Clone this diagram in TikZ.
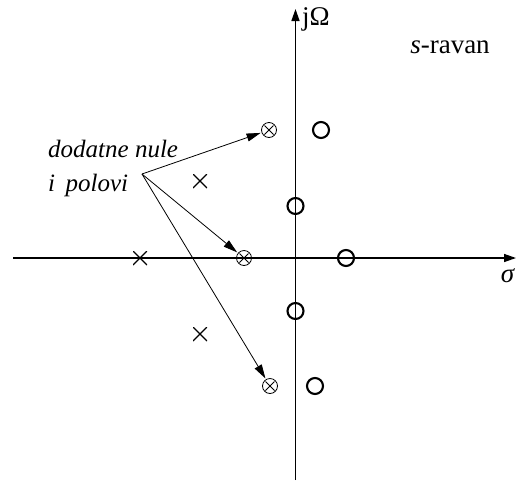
\documentclass[tikz,border=0pt]{standalone}
\usepackage{fontspec}
\setmainfont{Liberation Serif}
\usetikzlibrary{arrows.meta}
\begin{document}
\begin{tikzpicture}[x=1pt,y=-1pt,
  axis/.style={line width=1.4pt,-{Triangle[length=12pt,width=8pt]}},
  pointer/.style={line width=0.8pt,-{Triangle[length=14pt,width=8pt]},shorten >=1pt},
  zero/.style={circle,draw,line width=2.1pt,minimum size=16pt,inner sep=0pt},
  pole/.style={inner sep=0pt,minimum size=14pt,path picture={
     \draw[line width=1.1pt] (path picture bounding box.north west)--(path picture bounding box.south east)
       (path picture bounding box.south west)--(path picture bounding box.north east);}},
  extra/.style={circle,draw,line width=0.8pt,minimum size=15pt,inner sep=0pt,path picture={
     \draw[line width=0.8pt] ([shift={(-4.5pt,-4.5pt)}]path picture bounding box.center)--([shift={(4.5pt,4.5pt)}]path picture bounding box.center)
       ([shift={(-4.5pt,4.5pt)}]path picture bounding box.center)--([shift={(4.5pt,-4.5pt)}]path picture bounding box.center);}},
  lbl/.style={font=\fontsize{27}{30}\selectfont,inner sep=0pt},
  note/.style={font=\fontsize{25}{28}\selectfont\itshape,inner sep=0pt}
]
\useasboundingbox (0,0) rectangle (516,480);
% axes
\coordinate (xl) at (13,258);
\coordinate (xr) at (516,258);
\coordinate (yb) at (295.5,480);
\coordinate (yt) at (295.5,9);
\draw[axis] (xl) -- (xr);
\draw[axis] (yb) -- (yt);
% labels
\node[lbl,anchor=west] (jw) at (302,19) {jΩ};
\node[lbl] (sr) at (450,47) {\textit{s}-ravan};
\node[lbl] (sig) at (508,276) {\textit{σ}};
\node[note,anchor=west] (t1) at (48,149) {dodatne nule};
\node[note,anchor=west] (t2) at (48,185) {i\, polovi};
% zeros
\node[zero] (z1) at (321,130) {};
\node[zero] (z2) at (295.5,206) {};
\node[zero] (z3) at (346,258) {};
\node[zero] (z4) at (295.5,311) {};
\node[zero] (z5) at (315,386) {};
% poles
\node[pole] (p1) at (200,181) {};
\node[pole] (p2) at (140,258) {};
\node[pole] (p3) at (200,334) {};
% additional
\node[extra] (e1) at (269,130) {};
\node[extra] (e2) at (244,258) {};
\node[extra] (e3) at (270,386) {};
% pointers
\coordinate (src) at (142,174);
\draw[pointer] (src) -- (e1);
\draw[pointer] (src) -- (e2);
\draw[pointer] (src) -- (e3);
\end{tikzpicture}
\end{document}
